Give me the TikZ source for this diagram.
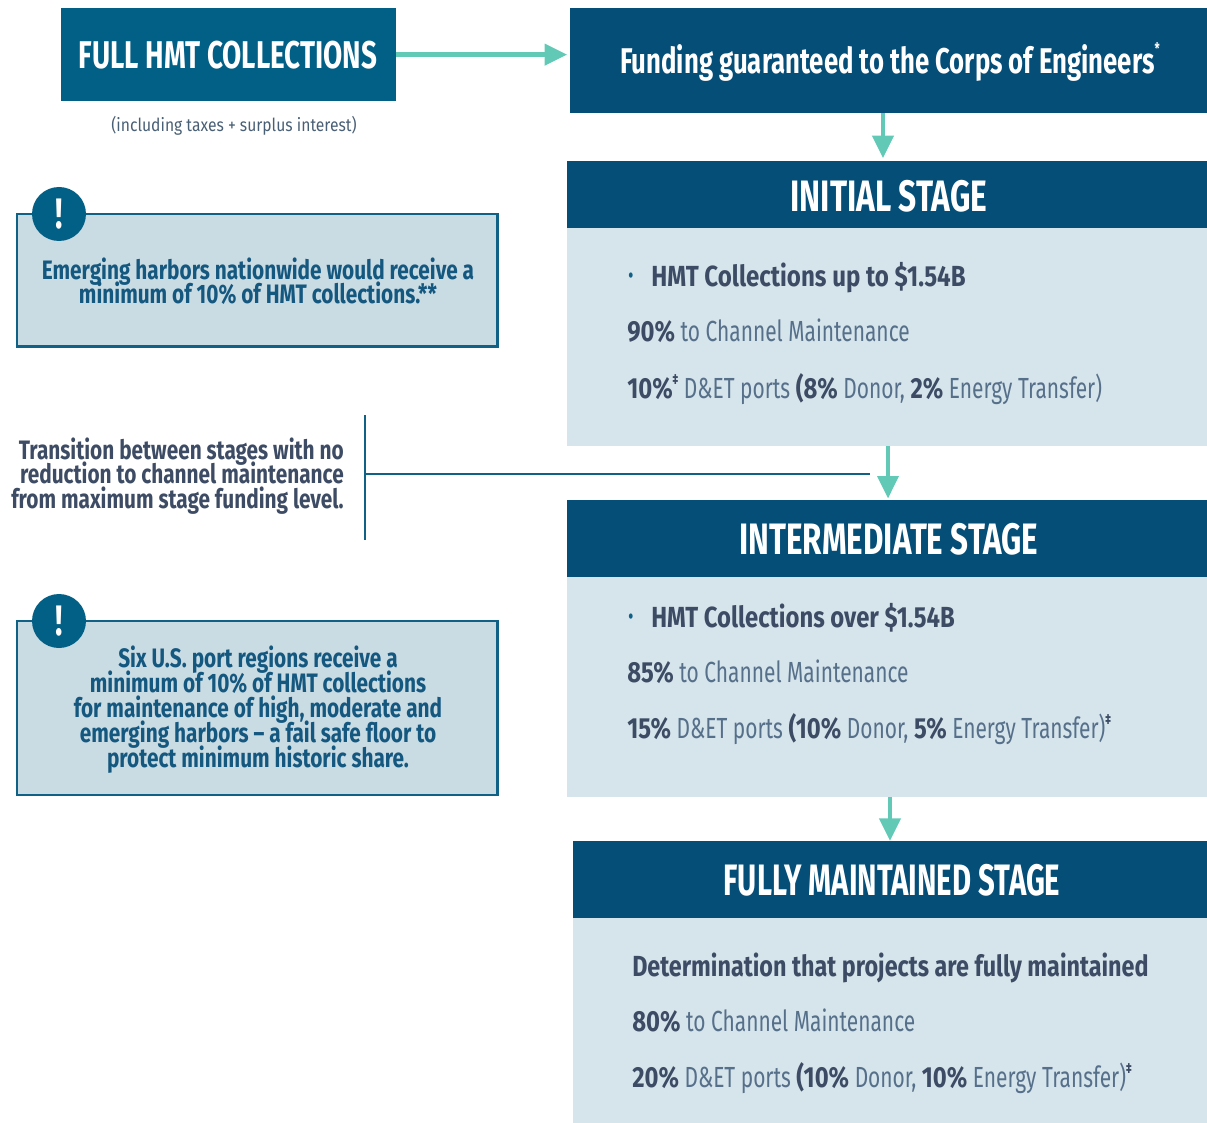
\documentclass[tikz,border=0pt]{standalone}
\usepackage{fontspec}
\usepackage{graphicx}
\usetikzlibrary{arrows.meta}
\setmainfont{Fira Sans}
\newfontfamily\cond[FakeStretch=0.72]{Fira Sans}
\newfontfamily\condb[FakeStretch=0.82]{Fira Sans}
\newfontfamily\condn[FakeStretch=0.78]{Fira Sans}
\newfontfamily\condw[FakeStretch=0.87]{Fira Sans}
\definecolor{headc}{HTML}{044E78}
\definecolor{fullc}{HTML}{025F85}
\definecolor{bodyc}{HTML}{D6E4EC}
\definecolor{notec}{HTML}{C9DBE3}
\definecolor{edgec}{HTML}{0F6186}
\definecolor{tealc}{HTML}{62C9B7}
\definecolor{darkt}{HTML}{3D4C64}
\definecolor{lightt}{HTML}{56708A}
\definecolor{notet}{HTML}{14577F}
\newcommand{\bd}[1]{{\condb\bfseries\color{darkt}#1}}
\newcommand{\dagg}{\raisebox{0.45em}{\fontsize{11}{11}\selectfont\bfseries\color{darkt}‡}}
\AtBeginDocument{\lineskiplimit=-30pt\relax}
\tikzset{
 x=0.75pt,y=-0.75pt,
 boxs/.style={anchor=north west,inner sep=0pt,outer sep=0pt,draw=none},
 headbox/.style={boxs,fill=headc},
 bodybox/.style={boxs,fill=bodyc},
 notebox/.style={boxs,fill=notec,draw=edgec,line width=1.8pt},
 badge/.style={circle,fill=fullc,text=white,minimum size=40.5pt,inner sep=0pt,font=\cond\bfseries\fontsize{32}{33}\selectfont},
 headtxt/.style={text=white,inner sep=0pt,font=\cond\bfseries\fontsize{33}{34}\selectfont},
 notetxt/.style={align=center,inner sep=0pt,text=notet,font=\condn\bfseries\fontsize{20}{17.6}\selectfont},
 linetxt/.style={anchor=base west,inner sep=0pt,text=lightt,font=\cond\fontsize{21.8}{22}\selectfont},
 flow/.style={draw=tealc,line width=3.7pt,-{Triangle[length=17pt,width=15.5pt]}},
 rulec/.style={draw=edgec,line width=1.6pt},
}
\begin{document}
\begin{tikzpicture}
\useasboundingbox (0,0) rectangle (1207,1123);
% top row
\node[headbox,fill=fullc,minimum width=251pt,minimum height=70pt] (full) at (61,8) {};
\node[text=white,inner sep=0pt,font=\cond\bfseries\fontsize{29}{30}\selectfont] (fulltxt) at (228,55) {FULL HMT COLLECTIONS};
\node[inner sep=0pt,text=lightt!85!black,font=\condw\fontsize{13.5}{14}\selectfont] (incl) at (234,126) {(including taxes + surplus interest)};
\node[headbox,minimum width=477.75pt,minimum height=79pt] (fund) at (570,8) {};
\node[text=white,inner sep=0pt,font=\cond\bfseries\fontsize{26.8}{27}\selectfont] (fundtxt) at (890,62) {Funding guaranteed to the Corps of Engineers\raisebox{0.55em}{\fontsize{12}{12}\selectfont *}};
% stage boxes
\node[headbox,minimum width=480pt,minimum height=50.5pt] (h1) at (567,161) {};
\node[bodybox,minimum width=480pt,minimum height=163.5pt] (b1) at (567,228) {};
\node[headbox,minimum width=480pt,minimum height=58pt] (h2) at (567,500) {};
\node[bodybox,minimum width=480pt,minimum height=165pt] (b2) at (567,577) {};
\node[headbox,minimum width=475.5pt,minimum height=58pt] (h3) at (573,841) {};
\node[bodybox,minimum width=475.5pt,minimum height=154pt] (b3) at (573,918) {};
\node[headtxt] (t1) at (889,196) {INITIAL STAGE};
\node[headtxt] (t2) at (889,539) {\scalebox{0.99}[1]{INTERMEDIATE STAGE}};
\node[headtxt] (t3) at (892,880) {\scalebox{0.926}[1]{FULLY MAINTAINED STAGE}};
% stage 1 text
\node[linetxt,text=edgec] (d1) at (628,285) {\textbf{·}};
\node[linetxt] (l11) at (651,287) {\scalebox{1.01}[1]{\bd{HMT Collections up to \$1.54B}}};
\node[linetxt] (l12) at (627,342) {\bd{90\%} to Channel Maintenance};
\node[linetxt] (l13) at (627,398) {\bd{10\%}\dagg{} D\&ET ports \bd{(8\%} Donor, \bd{2\%} Energy Transfer)};
% stage 2 text
\node[linetxt,text=edgec] (d2) at (628,625) {\textbf{·}};
\node[linetxt] (l21) at (651,627) {\bd{HMT Collections over \$1.54B}};
\node[linetxt] (l22) at (627,682) {\bd{85\%} to Channel Maintenance};
\node[linetxt] (l23) at (627,738) {\bd{15\%} D\&ET ports \bd{(10\%} Donor, \bd{5\%} Energy Transfer)\dagg};
% stage 3 text
\node[linetxt] (l31) at (632,976) {\scalebox{0.98}[1]{\bd{Determination that projects are fully maintained}}};
\node[linetxt] (l32) at (632,1031) {\bd{80\%} to Channel Maintenance};
\node[linetxt] (l33) at (632,1087) {\bd{20\%} D\&ET ports \bd{(10\%} Donor, \bd{10\%} Energy Transfer)\dagg};
% notes
\node[notebox,minimum width=360.5pt,minimum height=99.5pt] (n1) at (17,214) {};
\node[badge] (e1) at (59,214) {!};
\node[notetxt] (n1t) at (258,281) {Emerging harbors nationwide would receive a\\minimum of 10\% of HMT collections.**};
\node[notebox,minimum width=360.5pt,minimum height=130.5pt] (n2) at (17,621) {};
\node[badge] (e2) at (59,621) {!};
\node[notetxt,font=\condn\bfseries\fontsize{20}{18.8}\selectfont] (n2t) at (258,709.5) {Six U.S. port regions receive a\\minimum of 10\% of HMT collections\\for maintenance of high, moderate and\\emerging harbors – a fail safe floor to\\protect minimum historic share.};
% transition
\node[anchor=east,align=right,inner sep=0pt,text=darkt,font=\condn\bfseries\fontsize{20}{18.4}\selectfont] (trans) at (344,476) {Transition between stages with no\\reduction to channel maintenance\\from maximum stage funding level.};
\coordinate (vt) at (365,415);
\coordinate (vb) at (365,540);
\coordinate (hl) at (365,474);
\coordinate (hr) at (870,474);
\draw[rulec] (vt) -- (vb);
\draw[rulec] (hl) -- (hr);
% flows
\coordinate (a1) at (883,0);
\coordinate (a2) at (888,0);
\coordinate (a3) at (890,0);
\draw[flow,shorten >=2pt] (full.east) -- (full.east -| fund.west);
\draw[flow,shorten >=2pt] (a1 |- fund.south) -- (a1 |- h1.north);
\draw[flow,shorten >=1pt] (a2 |- b1.south) -- (a2 |- h2.north);
\draw[flow] (a3 |- b2.south) -- (a3 |- h3.north);
\end{tikzpicture}
\end{document}
